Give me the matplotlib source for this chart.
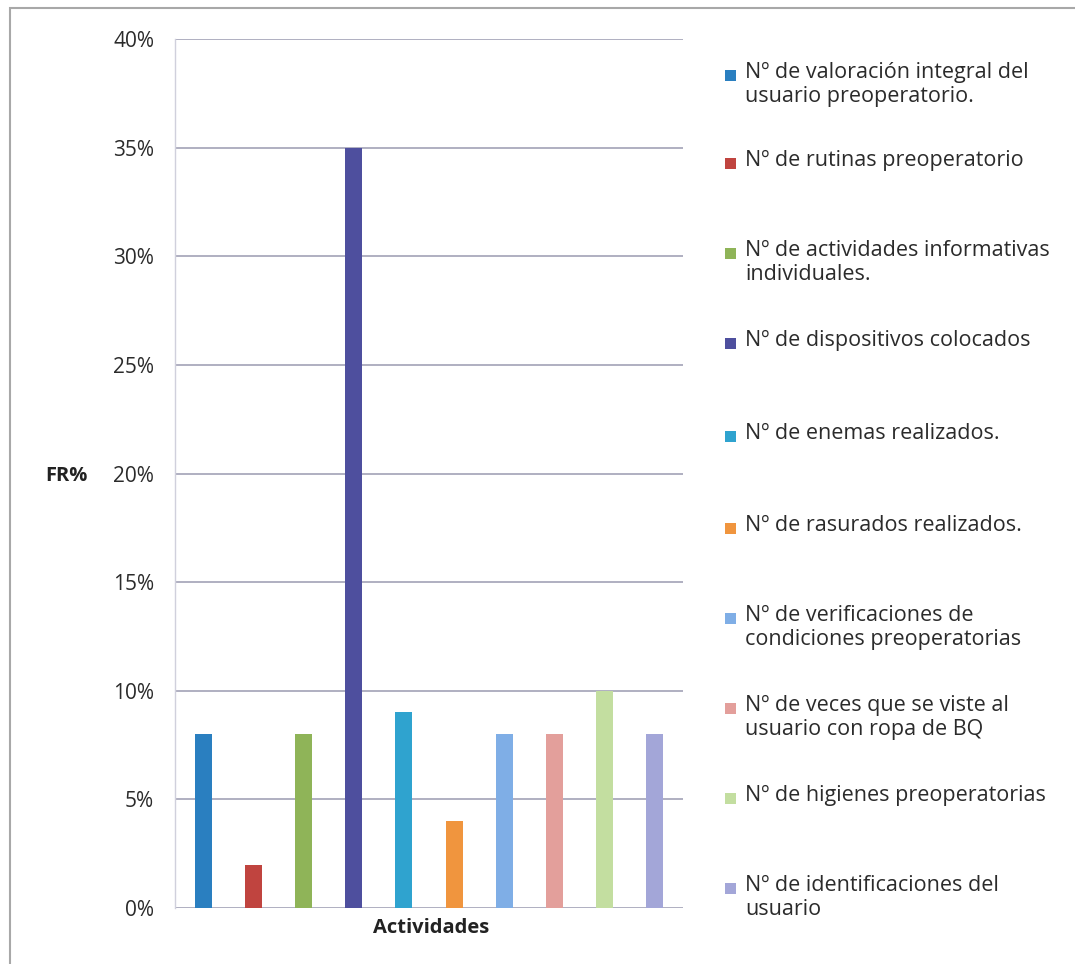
import matplotlib
matplotlib.use("Agg")
import matplotlib.pyplot as plt
from matplotlib.patches import Rectangle
from matplotlib.ticker import PercentFormatter

plt.rcParams['font.family'] = ['Open Sans', 'DejaVu Sans']

# Activity series (one bar per series, single "Actividades" category)
series_labels = [
    "Nº de valoración integral del\nusuario preoperatorio.",
    "Nº de rutinas preoperatorio",
    "Nº de actividades informativas\nindividuales.",
    "Nº de dispositivos colocados",
    "Nº de enemas realizados.",
    "Nº de rasurados realizados.",
    "Nº de verificaciones de\ncondiciones preoperatorias",
    "Nº de veces que se viste al\nusuario con ropa de BQ",
    "Nº de higienes preoperatorias",
    "Nº de identificaciones del\nusuario",
]
fr_percent = [8, 2, 8, 35, 9, 4, 8, 8, 10, 8]
series_colors = [
    "#2a7fc0", "#c0443f", "#8fb458", "#4e4f9e", "#2fa3cf",
    "#f0953e", "#7faee6", "#e39f9b", "#c3dea0", "#a3a6d8",
]
y_ticks = [0, 5, 10, 15, 20, 25, 30, 35, 40]

fig = plt.figure(figsize=(10.75, 9.64), dpi=100)
W, H = 1075, 964

# chart-area border
fig.add_artist(Rectangle((10 / W, -0.1), 1.2, 1 - 8 / H + 0.1,
                         transform=fig.transFigure, fill=False,
                         edgecolor="#a8a8a8", linewidth=1.5))

ax = fig.add_axes([175 / W, 1 - 908 / H, (683 - 175) / W, (908 - 39) / H])
positions = list(range(len(fr_percent)))
ax.bar(positions, fr_percent, width=0.34, color=series_colors, zorder=3)

ax.set_xlim(-0.56, len(fr_percent) - 0.44)
ax.set_ylim(0, 40)
ax.set_yticks(y_ticks)
ax.yaxis.set_major_formatter(PercentFormatter(decimals=0))
ax.set_xticks([])
ax.tick_params(axis="y", length=0, pad=15, labelsize=15, labelcolor="#2b2b2b")
ax.grid(axis="y", color="#9a9ab0", linewidth=1.1, zorder=0)
for side in ("top", "right", "bottom"):
    ax.spines[side].set_visible(False)
ax.spines["left"].set_color("#d0d0dc")
ax.spines["left"].set_linewidth(1.0)

fig.text(45 / W, 1 - 476 / H, "FR%", fontsize=14.5, fontweight="bold",
         color="#222222", ha="left", va="center")
fig.text(431 / W, 1 - 928 / H, "Actividades", fontsize=14.5, fontweight="bold",
         color="#222222", ha="center", va="center")

# legend entries, evenly spaced
first_line_y = [75, 163, 253, 343, 436, 528, 618, 708, 798, 888]
for label, color, yp in zip(series_labels, series_colors, first_line_y):
    fig.add_artist(Rectangle((725 / W, 1 - (yp + 6) / H), 11 / W, 11 / H,
                             transform=fig.transFigure, facecolor=color,
                             edgecolor="none"))
    fig.text(745 / W, 1 - (yp - 13) / H, label, fontsize=15.5, color="#2b2b2b",
             ha="left", va="top", linespacing=1.2)

fig.savefig("out.png", dpi=100, facecolor="white")
